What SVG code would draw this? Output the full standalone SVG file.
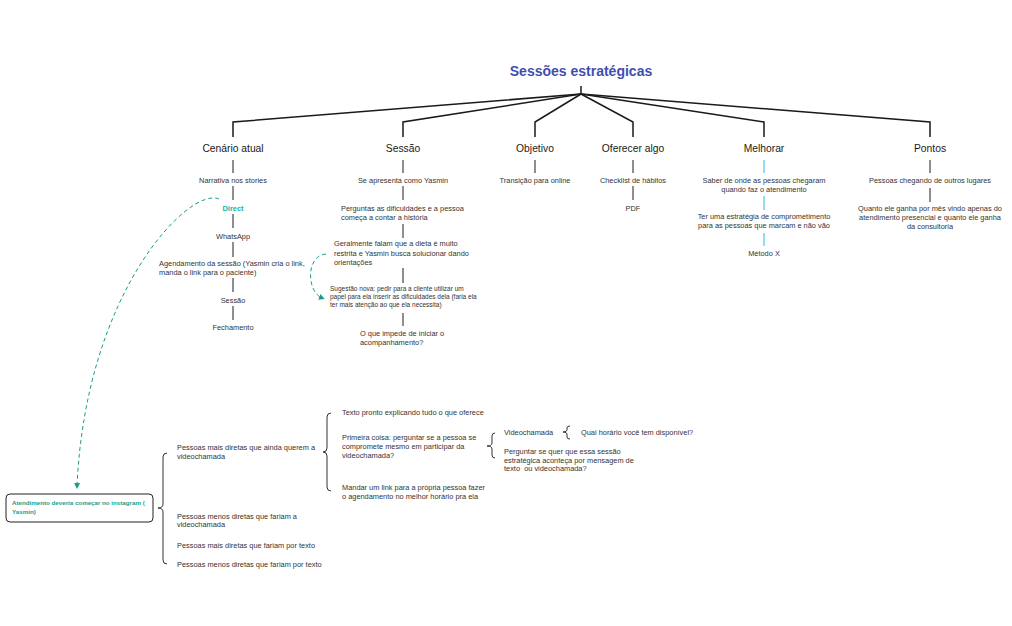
<svg xmlns="http://www.w3.org/2000/svg" width="1012" height="626" viewBox="0 0 1012 626">
<defs>
<style>
text{font-family:"Liberation Sans",Arial,sans-serif;fill:#333}
.title{font-size:14px;font-weight:bold;fill:#3f4fb0}
.h{font-size:10.3px;fill:#1a1a1a;text-anchor:middle}
.c{font-size:7.4px;text-anchor:middle}
.l{font-size:7.4px}
.s{font-size:6.5px}
.teal{fill:#21b3a0;font-weight:bold}
.box{font-size:6.2px;font-weight:bold;fill:#14a08c}
.main{stroke:#1a1a1a;stroke-width:1.5;fill:none}
.sub{stroke:#444;stroke-width:1.2;fill:none}
.blue{stroke:#4fc3f7;stroke-width:1.2;fill:none}
.brace{stroke:#333;stroke-width:1;fill:none}
.dash{stroke:#1a9c8a;stroke-width:1;fill:none;stroke-dasharray:4 3}
</style>
<marker id="ah" viewBox="0 0 6 6" refX="3" refY="3" markerWidth="6" markerHeight="6" orient="auto">
<path d="M0,0 L6,3 L0,6 Z" fill="#1a9c8a"/>
</marker>
</defs>
<rect width="1012" height="626" fill="#fff"/>

<g id="connectors">
<path class="main" d="M581,86 V94"/>
<path class="main" d="M581,94 L233,122 V137"/>
<path class="main" d="M581,94 L403,122 V137"/>
<path class="main" d="M581,94 L535,122 V137"/>
<path class="main" d="M581,94 L633,122 V137"/>
<path class="main" d="M581,94 L764,122 V137"/>
<path class="main" d="M581,94 L930,122 V137"/>
<path class="sub" d="M233,160 V173 M233,186 V200 M233,214 V228 M233,242 V257 M233,278 V292 M233,306 V320"/>
<path class="sub" d="M403,160 V173 M403,186 V200 M403,224 V238 M403,268 V283 M403,313 V326"/>
<path class="sub" d="M535,160 V173"/>
<path class="sub" d="M633,160 V173 M633,186 V200"/>
<path class="blue" d="M764,160 V173 M764,196 V210 M764,233 V246"/>
<path class="sub" d="M930,160 V173 M930,188 V202"/>
<path class="dash" d="M219,199 C190,186 86,290 77,486" marker-end="url(#ah)"/>
<path class="dash" d="M326,254 C305,256 307,292 322,298" marker-end="url(#ah)"/>
<path class="brace" d="M167,453 Q163,453 163,457 L163,504 Q163,508 158,508 Q163,508 163,512 L163,560 Q163,564 167,564"/>
<path class="brace" d="M331,413 Q327,413 327,417 L327,448 Q327,452 323,452 Q327,452 327,456 L327,487 Q327,491 331,491"/>
<path class="brace" d="M495,433 Q492,433 492,436 L492,443 Q492,446 487,446 Q492,446 492,449 L492,455 Q492,458 495,458"/>
<path class="brace" d="M570,426 Q567,426 567,428 L567,430 Q567,432 563,432 Q567,432 567,434 L567,437 Q567,439 570,439"/>
</g>

<g id="title"><text class="title" x="581" y="76" text-anchor="middle">Sessões estratégicas</text></g>

<g id="cenario">
<text class="h" x="233" y="152">Cenário atual</text>
<text class="c" x="233" y="182.5">Narrativa nos stories</text>
<text class="c teal" x="233" y="210.5">Direct</text>
<text class="c" x="233" y="238.5">WhatsApp</text>
<text class="l" x="159" y="265.5">Agendamento da sessão (Yasmin cria o link,</text>
<text class="l" x="159" y="274.5">manda o link para o paciente)</text>
<text class="c" x="233" y="302.5">Sessão</text>
<text class="c" x="233" y="330">Fechamento</text>
</g>

<g id="sessao">
<text class="h" x="403" y="152">Sessão</text>
<text class="c" x="403" y="182.5">Se apresenta como Yasmin</text>
<text class="l" x="341" y="210.5">Perguntas as dificuldades e a pessoa</text>
<text class="l" x="341" y="219.5">começa a contar a história</text>
<text class="l" x="334" y="246">Geralmente falam que a dieta é muito</text>
<text class="l" x="334" y="255.5">restrita e Yasmin busca solucionar dando</text>
<text class="l" x="334" y="264.5">orientações</text>
<text class="s" x="330" y="291">Sugestão nova: pedir para a cliente utilizar um</text>
<text class="s" x="330" y="299">papel para ela inserir as dificuldades dela (faria ela</text>
<text class="s" x="330" y="307">ter mais atenção ao que ela necessita)</text>
<text class="l" x="360" y="335.5">O que impede de iniciar o</text>
<text class="l" x="360" y="344.5">acompanhamento?</text>
</g>

<g id="objetivo">
<text class="h" x="535" y="152">Objetivo</text>
<text class="c" x="535" y="182.5">Transição para online</text>
</g>

<g id="oferecer">
<text class="h" x="633" y="152">Oferecer algo</text>
<text class="c" x="633" y="182.5">Checklist de hábitos</text>
<text class="c" x="633" y="210.5">PDF</text>
</g>

<g id="melhorar">
<text class="h" x="764" y="152">Melhorar</text>
<text class="c" x="764" y="182.5">Saber de onde as pessoas chegaram</text>
<text class="c" x="764" y="191.5">quando faz o atendimento</text>
<text class="c" x="764" y="218.5">Ter uma estratégia de comprometimento</text>
<text class="c" x="764" y="227.5">para as pessoas que marcam e não vão</text>
<text class="c" x="764" y="255.5">Método X</text>
</g>

<g id="pontos">
<text class="h" x="930" y="152">Pontos</text>
<text class="c" x="930" y="182.5">Pessoas chegando de outros lugares</text>
<text class="c" x="930" y="210.5">Quanto ele ganha por mês vindo apenas do</text>
<text class="c" x="930" y="219.5">atendimento presencial e quanto ele ganha</text>
<text class="c" x="930" y="228.5">da consultoria</text>
</g>

<g id="atendimento">
<rect x="6" y="494" width="147" height="28" rx="4" fill="#fff" stroke="#222" stroke-width="1"/>
<text class="box" x="12" y="505">Atendimento deveria começar no instagram (</text>
<text class="box" x="12" y="514">Yasmin)</text>
</g>

<g id="grupos">
<text class="l" x="177" y="449.5">Pessoas mais diretas que ainda querem a</text>
<text class="l" x="177" y="458.5">videochamada</text>
<text class="l" x="177" y="518.5">Pessoas menos diretas que fariam a</text>
<text class="l" x="177" y="526.5">videochamada</text>
<text class="l" x="177" y="547.5">Pessoas mais diretas que fariam por texto</text>
<text class="l" x="177" y="566.5">Pessoas menos diretas que fariam por texto</text>
</g>

<g id="passos">
<text class="l" x="342" y="414.5">Texto pronto explicando tudo o que oferece</text>
<text class="l" x="342" y="439.5">Primeira coisa: perguntar se a pessoa se</text>
<text class="l" x="342" y="448.5">compromete mesmo em participar da</text>
<text class="l" x="342" y="457.5">videochamada?</text>
<text class="l" x="342" y="489.5">Mandar um link para a própria pessoa fazer</text>
<text class="l" x="342" y="498.5">o agendamento no melhor horário pra ela</text>
</g>

<g id="opcoes">
<text class="l" x="504" y="434.5">Videochamada</text>
<text class="l" x="581" y="434.5">Qual horário você tem disponível?</text>
<text class="l" x="504" y="453.5">Perguntar se quer que essa sessão</text>
<text class="l" x="504" y="462.5">estratégica aconteça por mensagem de</text>
<text class="l" x="504" y="470.5" xml:space="preserve">texto  ou videochamada?</text>
</g>
</svg>
